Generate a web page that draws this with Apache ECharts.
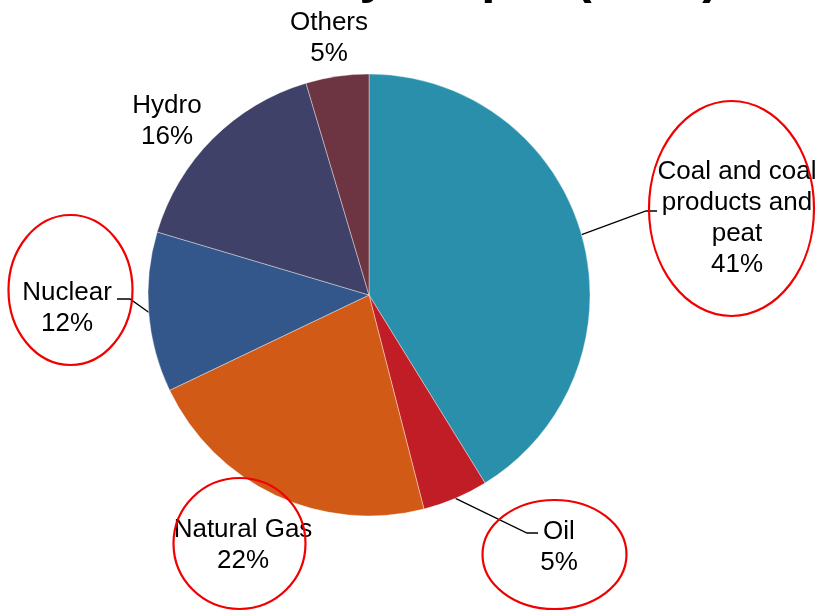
<!DOCTYPE html>
<html>
<head>
<meta charset="utf-8">
<script src="https://cdn.jsdelivr.net/npm/echarts@6/dist/echarts.min.js"></script>
<style>
  html, body { margin: 0; padding: 0; background: #ffffff; }
  #chart { width: 821px; height: 612px; }
</style>
</head>
<body>
<div id="chart"></div>
<script>
// ---- data ----
const titleText = 'Electricity output (2011)';
const categories = ['Coal and coal\nproducts and\npeat', 'Oil', 'Natural Gas', 'Nuclear', 'Hydro', 'Others'];
const shares = [41.2, 4.8, 21.9, 11.7, 15.8, 4.6];
const sliceColors = ['#2A8FAB', '#C11D27', '#D25A17', '#33578A', '#3F4169', '#6D3441'];
const showLeader = [true, true, false, true, false, false];

// ---- layout (label placement, leader bends, annotation ellipses) ----
const labelPlace = [
  { x: 737, y: 218, bend: [[646, 211], [657, 211]] },
  { x: 559, y: 547, bend: [[527, 533], [538, 533]] },
  { x: 243, y: 545, bend: null },
  { x: 67, y: 308, bend: [[130, 299], [117, 299]] },
  { x: 167, y: 121, bend: null },
  { x: 329, y: 38, bend: null }
];
const annotationEllipses = [
  { cx: 731.5, cy: 208.5, rx: 82.5, ry: 107.5 },
  { cx: 70.5, cy: 290, rx: 62, ry: 75 },
  { cx: 239.5, cy: 543.5, rx: 66, ry: 65.5 },
  { cx: 554.5, cy: 554.5, rx: 72, ry: 54.5 }
];

const total = shares.reduce((a, b) => a + b, 0);
const pieData = categories.map((name, i) => ({
  name: name,
  value: shares[i],
  itemStyle: { color: sliceColors[i] },
  labelLine: { show: showLeader[i] }
}));

const chart = echarts.init(document.getElementById('chart'), null, { renderer: 'canvas' });
chart.setOption({
  animation: false,
  backgroundColor: '#ffffff',
  title: {
    text: titleText,
    left: 139,
    top: -53,
    textStyle: {
      fontFamily: 'Liberation Sans, Arial, sans-serif',
      fontSize: 51,
      fontWeight: 'bold',
      color: '#000000',
      lineHeight: 51
    }
  },
  series: [{
    type: 'pie',
    center: [369, 295],
    radius: 221,
    startAngle: 90,
    clockwise: true,
    avoidLabelOverlap: false,
    itemStyle: { borderColor: 'rgba(255,255,255,0.55)', borderWidth: 0.7 },
    label: {
      show: true,
      position: 'outside',
      fontFamily: 'Liberation Sans, Arial, sans-serif',
      fontSize: 26,
      lineHeight: 31,
      color: '#000000',
      align: 'center',
      formatter: function (p) {
        return p.name + '\n' + Math.round(p.value / total * 100) + '%';
      }
    },
    labelLine: {
      show: true,
      smooth: false,
      length: 20,
      length2: 10,
      lineStyle: { color: '#000000', width: 1.3 }
    },
    labelLayout: function (params) {
      const pl = labelPlace[params.dataIndex];
      const out = { x: pl.x, y: pl.y, align: 'center', verticalAlign: 'middle' };
      if (pl.bend && params.labelLinePoints) {
        out.labelLinePoints = [params.labelLinePoints[0], pl.bend[0], pl.bend[1]];
      }
      return out;
    },
    emphasis: { disabled: true },
    data: pieData
  }],
  graphic: annotationEllipses.map(e => ({
    type: 'ellipse',
    z: 100,
    silent: true,
    shape: { cx: e.cx, cy: e.cy, rx: e.rx, ry: e.ry },
    style: { fill: 'none', stroke: '#F20000', lineWidth: 2.2 }
  }))
});
</script>
</body>
</html>
